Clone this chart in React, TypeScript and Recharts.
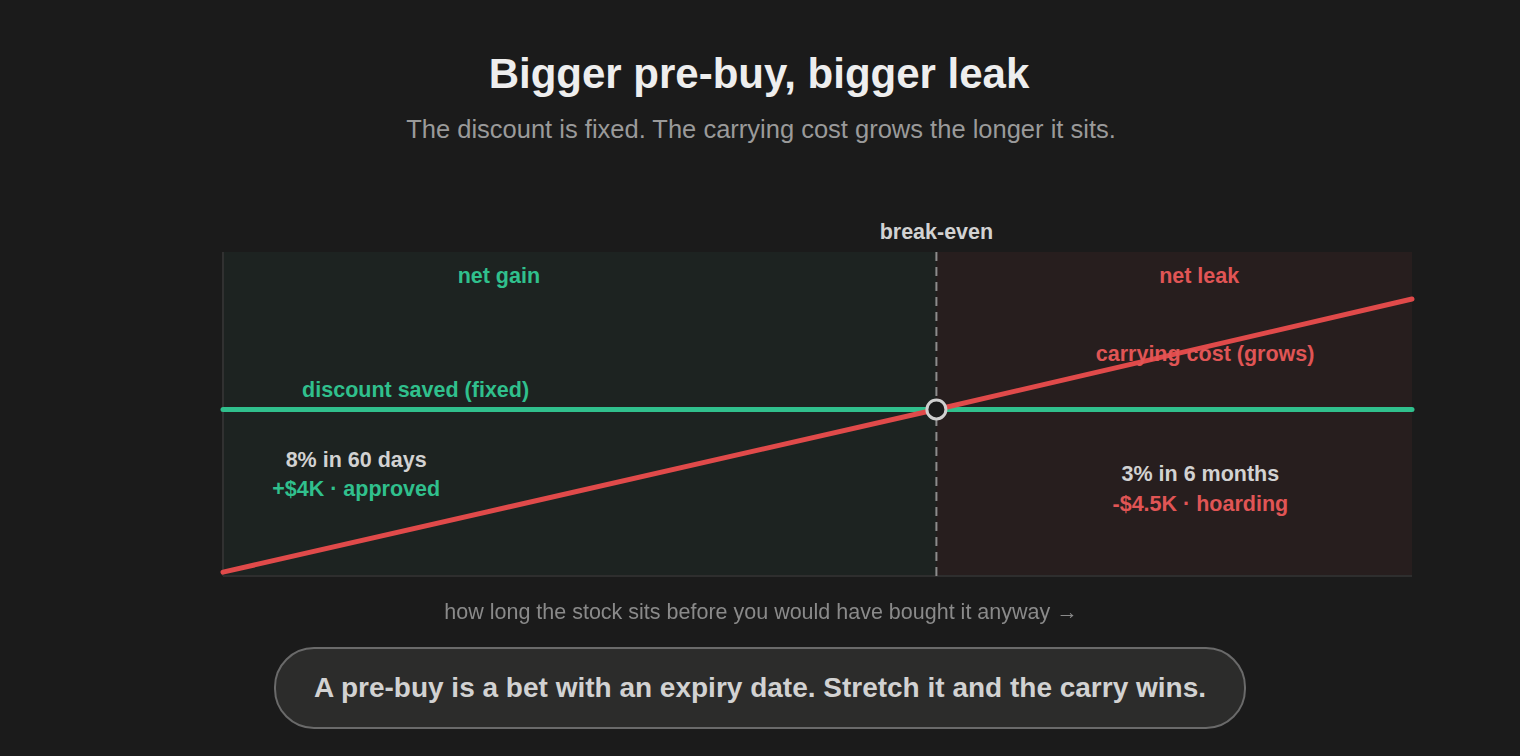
import React from "react";
import {
  LineChart, Line, XAxis, YAxis, ReferenceArea, ReferenceLine, ReferenceDot,
} from "recharts";

// x: how long the stock sits (relative), y: $ value (relative)
const sitTime       = [0, 6, 10];
const discountSaved = [51.4, 51.4, 51.4];
const carryingCost  = [1.2, 51.4, 85.5];
const breakEven     = { x: 6, y: 51.4 };

const data = sitTime.map((t, i) => ({
  t,
  discount: discountSaved[i],
  carry: carryingCost[i],
}));

const GREEN = "#30c08d";
const RED   = "#e04a4a";
const LABEL_RED = "#e05555";
const LIGHT = "#d2d2d2";
const BG    = "#1b1b1b";

const FONT = "'Liberation Sans', Arial, sans-serif";

interface Note {
  x: number;
  y: number;
  text: string;
  color: string;
}

const notes: Note[] = [
  { x: 6,    y: 106.5, text: "break-even",             color: LIGHT },
  { x: 2.32, y: 92.9,  text: "net gain",               color: GREEN },
  { x: 8.21, y: 92.9,  text: "net leak",               color: LABEL_RED },
  { x: 1.62, y: 57.7,  text: "discount saved (fixed)", color: GREEN },
  { x: 8.26, y: 68.8,  text: "carrying cost (grows)",  color: LABEL_RED },
  { x: 1.12, y: 36.1,  text: "8% in 60 days",          color: LIGHT },
  { x: 1.12, y: 26.9,  text: "+$4K · approved",        color: GREEN },
  { x: 8.22, y: 31.8,  text: "3% in 6 months",         color: LIGHT },
  { x: 8.22, y: 22.5,  text: "-$4.5K · hoarding",      color: LABEL_RED },
];

export default function App() {
  return (
    <div style={{ position: "fixed", inset: 0, background: BG, fontFamily: FONT }}>
      <div style={{
        position: "absolute", left: 0, width: 1518, top: 49, textAlign: "center",
        color: "#eeeeee", fontSize: 42, fontWeight: 700, lineHeight: "50px",
      }}>
        Bigger pre-buy, bigger leak
      </div>
      <div style={{
        position: "absolute", left: 0, width: 1522, top: 114, textAlign: "center",
        color: "#9a9a9a", fontSize: 25.5, lineHeight: "30px",
      }}>
        The discount is fixed. The carrying cost grows the longer it sits.
      </div>

      <div style={{ position: "absolute", left: 0, top: 0 }}>
        <LineChart
          width={1520}
          height={756}
          data={data}
          margin={{ top: 252, right: 108, bottom: 180, left: 223 }}
        >
          <XAxis type="number" dataKey="t" domain={[0, 10]} hide />
          <YAxis type="number" domain={[0, 100]} hide />

          <ReferenceArea x1={0} x2={6} y1={0} y2={100} fill="#1d2321" fillOpacity={1} stroke="none" />
          <ReferenceArea x1={6} x2={10} y1={0} y2={100} fill="#271e1e" fillOpacity={1} stroke="none" />
          <ReferenceLine x={0} stroke="#313131" strokeWidth={2} />
          <ReferenceLine y={0} stroke="#2e2e2e" strokeWidth={2} />
          <ReferenceLine x={breakEven.x} stroke="#8c8c8c" strokeWidth={2} strokeDasharray="9 6" />

          {notes.map((n) => (
            <ReferenceDot
              key={n.text}
              x={n.x}
              y={n.y}
              r={0}
              ifOverflow="visible"
              label={{
                value: n.text,
                position: "center",
                fill: n.color,
                fontSize: 21.5,
                fontWeight: 700,
                fontFamily: FONT,
              }}
            />
          ))}

          <Line
            type="linear"
            dataKey="discount"
            stroke={GREEN}
            strokeWidth={5}
            strokeLinecap="round"
            dot={false}
            activeDot={false}
            isAnimationActive={false}
          />
          <Line
            type="linear"
            dataKey="carry"
            stroke={RED}
            strokeWidth={5}
            strokeLinecap="round"
            dot={false}
            activeDot={false}
            isAnimationActive={false}
          />
          <ReferenceDot
            x={breakEven.x}
            y={breakEven.y}
            r={9.5}
            fill={BG}
            stroke="#cfcfcf"
            strokeWidth={3}
            ifOverflow="visible"
          />
        </LineChart>
      </div>

      <div style={{
        position: "absolute", left: 0, width: 1522, top: 599, textAlign: "center",
        color: "#8a8a8a", fontSize: 21.5, lineHeight: "26px",
      }}>
        how long the stock sits before you would have bought it anyway →
      </div>

      <div style={{
        position: "absolute", left: 274, top: 647, width: 968, height: 78,
        border: "2px solid #6a6a6a", borderRadius: 40, background: "#2c2c2b",
        display: "flex", alignItems: "center", justifyContent: "center",
        color: "#d2d2d2", fontSize: 28, fontWeight: 700,
      }}>
        A pre-buy is a bet with an expiry date. Stretch it and the carry wins.
      </div>
    </div>
  );
}
